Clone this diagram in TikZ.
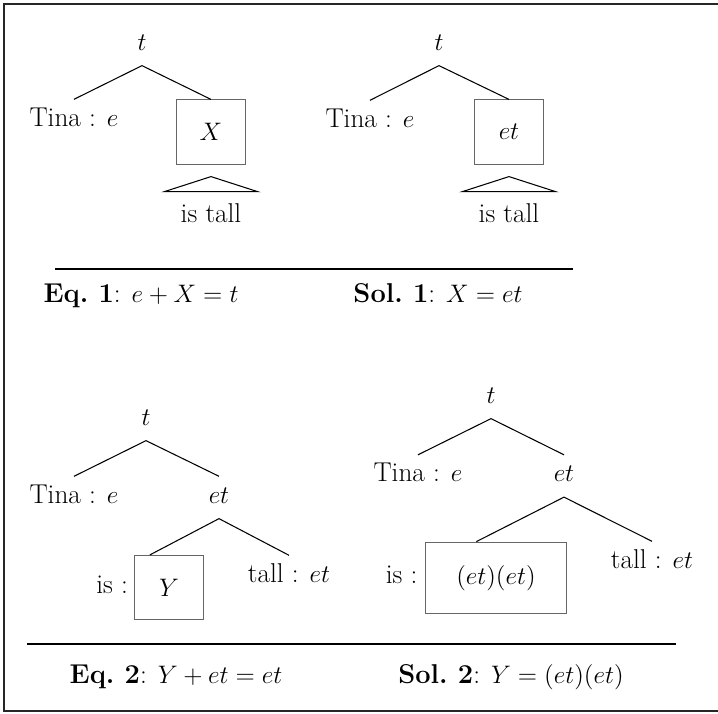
\documentclass[tikz,border=0pt]{standalone}
\usetikzlibrary{calc,positioning}

\begin{document}
\begin{tikzpicture}[
  x=0.02cm, y=-0.02cm,
  font=\fontsize{15.5}{18}\selectfont,
  cat/.style={inner sep=0pt, text height=15pt, text depth=8.7pt, anchor=base},
  hole/.style={draw=black!60, line width=0.6pt, inner sep=0pt, minimum width=39pt, minimum height=36.5pt},
  branch/.style={line width=0.6pt, line join=miter},
  roof/.style={line width=0.6pt, line join=miter},
  rule/.style={line width=0.8pt},
  eqn/.style={anchor=base, inner sep=0pt}
]

\useasboundingbox (0,0) rectangle (718,714);

% Frame, open on the right.
\draw[black!85, line width=1.1pt] (740,4) -- (4,4) -- (4,711) -- (740,711);

% First tree: the unknown X.
\node[cat] (t1) at (142,50) {$t$};
\node[cat] (tina1) at (74,126) {Tina : $e$};
\node[hole] (X1) at (211,132) {$X$};
\draw[branch] (tina1.north) -- (t1.south) -- (X1.north);
\draw[roof] ($(X1.south)+(0,12)$) coordinate (top1) -- +(-46.5,15) -- +(46.5,15) -- cycle;
\node[cat] (pred1) at ($(top1)+(0,46)$) {is tall};

% First tree, solved.
\node[cat] (t2) at (439,50) {$t$};
\node[cat] (tina2) at (370,127) {Tina : $e$};
\node[hole] (X2) at (509,132) {$et$};
\draw[branch] (tina2.north) -- (t2.south) -- (X2.north);
\draw[roof] ($(X2.south)+(0,12)$) coordinate (top2) -- +(-46.5,15) -- +(46.5,15) -- cycle;
\node[cat] (pred2) at ($(top2)+(0,46)$) {is tall};

\draw[rule] (55,269) -- (573,269);
\node[eqn] (eq1) at (141,302) {\textbf{Eq.~1}: $e+X=t$};
\node[eqn] (sol1) at (438,302) {\textbf{Sol.~1}: $X=et$};

% Second tree: the unknown Y under the copula.
\node[cat] (t3) at (146,425) {$t$};
\node[cat] (tina3) at (74,503) {Tina : $e$};
\node[cat] (et3) at (219,503) {$et$};
\node[hole] (Y3) at (169,587.5) {$Y$};
\node[cat, left=3.4pt of Y3] (is3) {is :};
\node[cat] (tall3) at (289,582) {tall : $et$};
\coordinate (isY3) at ($(is3.west |- Y3.north)!0.5!(Y3.north east)$);
\draw[branch] (tina3.north) -- (t3.south) -- (et3.north);
\draw[branch] (isY3) -- (et3.south) -- (tall3.north);

% Second tree, solved.
\node[cat] (t4) at (491,403) {$t$};
\node[cat] (tina4) at (418,481.5) {Tina : $e$};
\node[cat] (et4) at (564,481.5) {$et$};
\node[hole, minimum width=80.5pt, minimum height=40.8pt] (Y4) at (496,578) {$(et)(et)$};
\node[cat, left=4pt of Y4] (is4) {is :};
\node[cat] (tall4) at (652,568) {tall : $et$};
\coordinate (isY4) at ($(is4.west |- Y4.north)!0.5!(Y4.north east)$);
\draw[branch] (tina4.north) -- (t4.south) -- (et4.north);
\draw[branch] (isY4) -- (et4.south) -- (tall4.north);

\draw[rule] (27,644) -- (676,644);
\node[eqn] (eq2) at (176,683) {\textbf{Eq.~2}: $Y+et=et$};
\node[eqn] (sol2) at (511,683) {\textbf{Sol.~2}: $Y=(et)(et)$};

\end{tikzpicture}
\end{document}
